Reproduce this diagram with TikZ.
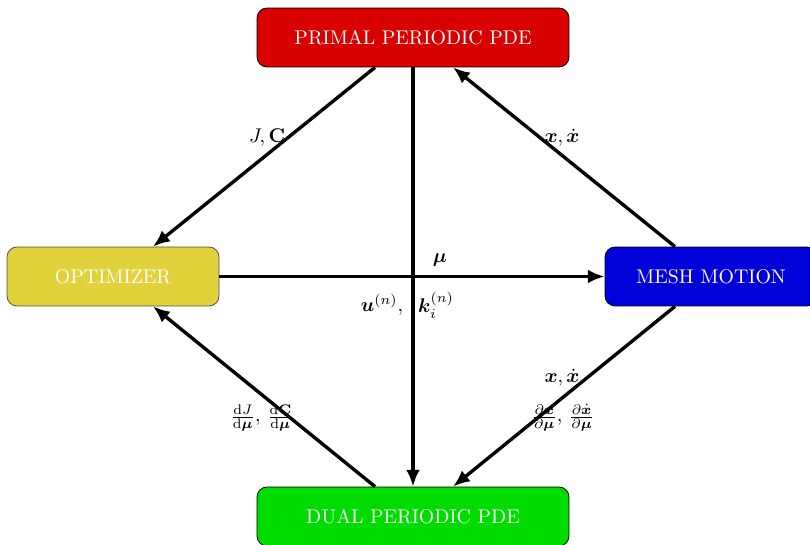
\documentclass[tikz,border=0pt]{standalone}
\usepackage{amsmath,amssymb,bm}
\usetikzlibrary{arrows.meta,calc}
\definecolor{cRed}{RGB}{216,0,0}
\definecolor{cYel}{RGB}{225,210,60}
\definecolor{cBlue}{RGB}{0,0,216}
\definecolor{cGreen}{RGB}{0,220,0}
\tikzset{
  blockbox/.style={draw=black, rounded corners=5pt, text=white, minimum height=29.7pt, inner sep=2pt},
  widebox/.style={blockbox, minimum width=157.2pt},
  narrowbox/.style={blockbox, minimum width=106.8pt},
  flow/.style={line width=1.7pt, -{Latex[length=8.5pt,width=7pt]}},
  lbl/.style={inner sep=1pt}
}
\begin{document}
\begin{tikzpicture}[x=0.504pt,y=-0.504pt]
\useasboundingbox (0,0) rectangle (810,545);
\node[widebox, fill=cRed] (P) at (413,37.5) {PRIMAL PERIODIC PDE};
\node[narrowbox, fill=cYel, draw=black!70] (O) at (113,276.5) {OPTIMIZER};
\node[narrowbox, fill=cBlue] (M) at (711,276.5) {MESH MOTION};
\node[widebox, fill=cGreen] (D) at (413,516.5) {DUAL PERIODIC PDE};

\draw[flow] ($(P.south)+(-38,0)$) -- ($(O.north)+(40,0)$);
\draw[flow] ($(M.north)+(-36,0)$) -- ($(P.south)+(40,0)$);
\draw[flow] (P.south) -- (D.north);
\draw[flow] (O.east) -- (M.west);
\draw[flow] ($(M.south)+(-36,0)$) -- ($(D.north)+(40,0)$);
\draw[flow] ($(D.north)+(-38,0)$) -- ($(O.south)+(40,0)$);

\node[lbl] (l1) at (267,138) {$J,\mathbf{C}$};
\node[lbl] (l2) at (562,138) {$\bm{x},\dot{\bm{x}}$};
\node[lbl] (l3) at (440,260) {$\bm{\mu}$};
\node[lbl] (l4) at (382,305) {$\bm{u}^{(n)},$};
\node[lbl] (l5) at (436,305) {$\bm{k}_i^{(n)}$};
\node[lbl] (l6) at (562,378) {$\bm{x},\dot{\bm{x}}$};
\node[lbl] (l7) at (563,418) {$\frac{\partial \bm{x}}{\partial \bm{\mu}},\,\frac{\partial \dot{\bm{x}}}{\partial \bm{\mu}}$};
\node[lbl] (l8) at (262,418) {$\frac{\mathrm{d}J}{\mathrm{d}\bm{\mu}},\,\frac{\mathrm{d}\mathbf{C}}{\mathrm{d}\bm{\mu}}$};
\end{tikzpicture}
\end{document}
